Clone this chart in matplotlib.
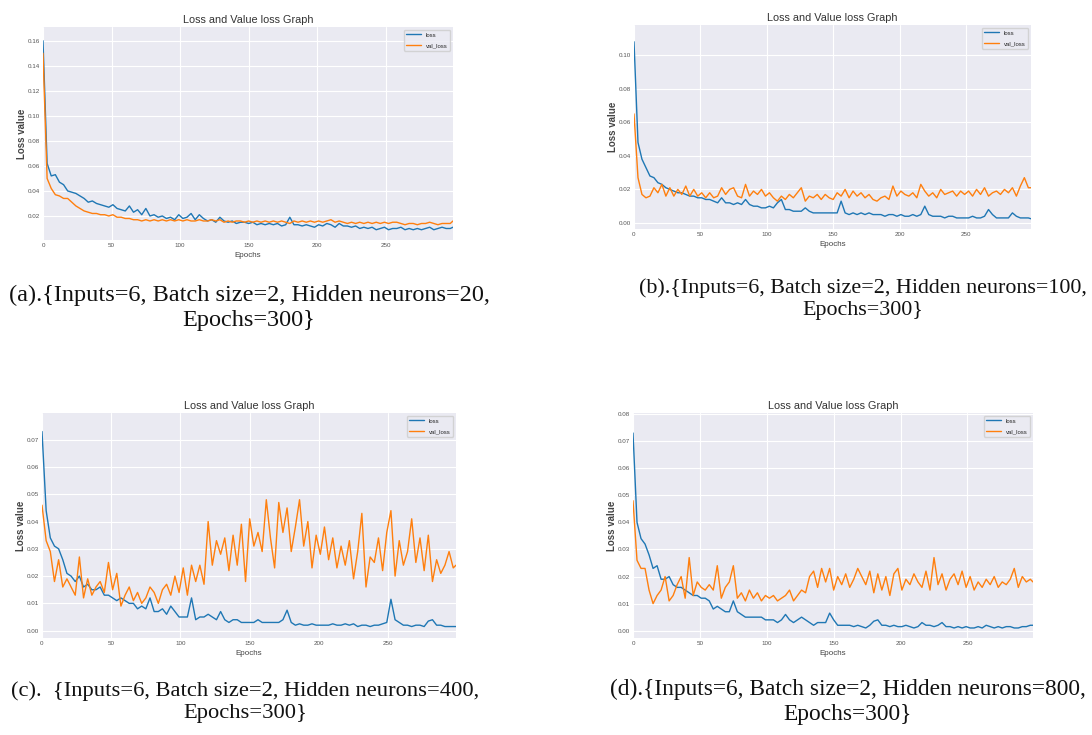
import matplotlib
matplotlib.use("Agg")
import matplotlib.pyplot as plt

# epochs sampled every 3rd epoch, plus the final one
epochs = list(range(0, 298, 3)) + [299]

loss_a = [0.160, 0.062, 0.052, 0.053, 0.047, 0.045, 0.040, 0.039, 0.038, 0.036,
          0.034, 0.031, 0.032, 0.030, 0.029, 0.028, 0.027, 0.029, 0.026, 0.025,
          0.024, 0.028, 0.023, 0.025, 0.021, 0.026, 0.020, 0.021, 0.019, 0.020,
          0.018, 0.019, 0.017, 0.021, 0.018, 0.019, 0.022, 0.017, 0.021, 0.018,
          0.016, 0.017, 0.015, 0.019, 0.016, 0.015, 0.016, 0.014, 0.015, 0.015,
          0.014, 0.015, 0.013, 0.014, 0.013, 0.014, 0.013, 0.014, 0.012, 0.013,
          0.019, 0.013, 0.013, 0.012, 0.013, 0.012, 0.011, 0.013, 0.012, 0.014,
          0.013, 0.011, 0.014, 0.012, 0.012, 0.011, 0.012, 0.010, 0.011, 0.010,
          0.011, 0.009, 0.010, 0.011, 0.009, 0.010, 0.010, 0.011, 0.009, 0.010,
          0.009, 0.010, 0.009, 0.010, 0.011, 0.009, 0.010, 0.011, 0.010, 0.010,
          0.011]
val_a = [0.150, 0.050, 0.042, 0.037, 0.036, 0.034, 0.034, 0.031, 0.028, 0.026,
         0.024, 0.023, 0.022, 0.022, 0.021, 0.021, 0.020, 0.021, 0.019, 0.019,
         0.018, 0.018, 0.017, 0.017, 0.016, 0.017, 0.016, 0.017, 0.016, 0.017,
         0.016, 0.017, 0.016, 0.017, 0.016, 0.017, 0.016, 0.016, 0.017, 0.016,
         0.016, 0.017, 0.016, 0.017, 0.015, 0.016, 0.015, 0.016, 0.016, 0.015,
         0.016, 0.015, 0.016, 0.015, 0.016, 0.015, 0.016, 0.015, 0.016, 0.015,
         0.014, 0.016, 0.015, 0.016, 0.015, 0.016, 0.015, 0.016, 0.015, 0.016,
         0.017, 0.015, 0.016, 0.015, 0.014, 0.015, 0.014, 0.015, 0.014, 0.015,
         0.014, 0.015, 0.014, 0.015, 0.014, 0.015, 0.015, 0.014, 0.013, 0.014,
         0.014, 0.013, 0.014, 0.014, 0.015, 0.014, 0.013, 0.014, 0.014, 0.014,
         0.016]

loss_b = [0.108, 0.048, 0.038, 0.033, 0.028, 0.027, 0.024, 0.023, 0.021, 0.020,
          0.019, 0.018, 0.018, 0.017, 0.016, 0.016, 0.015, 0.015, 0.014, 0.014,
          0.013, 0.012, 0.015, 0.012, 0.012, 0.011, 0.012, 0.011, 0.014, 0.011,
          0.010, 0.010, 0.009, 0.009, 0.010, 0.009, 0.012, 0.014, 0.008, 0.008,
          0.007, 0.007, 0.007, 0.009, 0.007, 0.006, 0.006, 0.006, 0.006, 0.006,
          0.006, 0.006, 0.013, 0.006, 0.005, 0.006, 0.005, 0.006, 0.005, 0.006,
          0.005, 0.005, 0.005, 0.004, 0.005, 0.005, 0.004, 0.005, 0.004, 0.004,
          0.005, 0.004, 0.005, 0.010, 0.005, 0.004, 0.004, 0.004, 0.003, 0.004,
          0.004, 0.003, 0.003, 0.003, 0.003, 0.004, 0.003, 0.003, 0.004, 0.008,
          0.005, 0.003, 0.003, 0.003, 0.003, 0.006, 0.004, 0.003, 0.003, 0.003,
          0.0025]
val_b = [0.065, 0.027, 0.017, 0.015, 0.016, 0.021, 0.018, 0.023, 0.016, 0.021,
         0.016, 0.020, 0.017, 0.022, 0.016, 0.020, 0.016, 0.018, 0.015, 0.018,
         0.015, 0.016, 0.021, 0.017, 0.020, 0.021, 0.016, 0.015, 0.023, 0.016,
         0.019, 0.017, 0.020, 0.016, 0.018, 0.015, 0.013, 0.016, 0.014, 0.017,
         0.015, 0.018, 0.021, 0.013, 0.016, 0.015, 0.017, 0.014, 0.017, 0.015,
         0.014, 0.018, 0.016, 0.020, 0.015, 0.019, 0.016, 0.018, 0.015, 0.017,
         0.014, 0.013, 0.015, 0.016, 0.014, 0.022, 0.016, 0.019, 0.017, 0.016,
         0.018, 0.015, 0.023, 0.019, 0.016, 0.018, 0.015, 0.020, 0.017, 0.018,
         0.019, 0.016, 0.019, 0.017, 0.019, 0.016, 0.020, 0.017, 0.021, 0.016,
         0.018, 0.019, 0.017, 0.020, 0.018, 0.021, 0.016, 0.022, 0.027, 0.021,
         0.021]

loss_c = [0.073, 0.044, 0.034, 0.031, 0.030, 0.026, 0.021, 0.020, 0.018, 0.020,
          0.016, 0.017, 0.015, 0.015, 0.016, 0.013, 0.013, 0.012, 0.011, 0.012,
          0.011, 0.010, 0.010, 0.008, 0.009, 0.008, 0.012, 0.007, 0.007, 0.008,
          0.006, 0.009, 0.007, 0.005, 0.005, 0.005, 0.012, 0.004, 0.005, 0.005,
          0.006, 0.005, 0.004, 0.007, 0.004, 0.003, 0.004, 0.004, 0.003, 0.003,
          0.003, 0.003, 0.004, 0.003, 0.003, 0.003, 0.003, 0.003, 0.004, 0.0075,
          0.003, 0.002, 0.0025, 0.002, 0.002, 0.0025, 0.002, 0.002, 0.002, 0.002,
          0.0025, 0.002, 0.002, 0.0025, 0.002, 0.0025, 0.0015, 0.002, 0.002, 0.0015,
          0.002, 0.002, 0.0025, 0.003, 0.0115, 0.004, 0.003, 0.002, 0.002, 0.0015,
          0.002, 0.002, 0.0015, 0.0035, 0.004, 0.002, 0.002, 0.0015, 0.0015, 0.0015,
          0.0015]
val_c = [0.046, 0.033, 0.029, 0.018, 0.026, 0.016, 0.019, 0.016, 0.013, 0.027,
         0.012, 0.019, 0.013, 0.016, 0.018, 0.014, 0.025, 0.015, 0.021, 0.009,
         0.013, 0.016, 0.011, 0.014, 0.010, 0.012, 0.016, 0.014, 0.010, 0.015,
         0.017, 0.013, 0.020, 0.014, 0.023, 0.013, 0.024, 0.018, 0.024, 0.017,
         0.040, 0.024, 0.033, 0.028, 0.034, 0.022, 0.035, 0.024, 0.039, 0.018,
         0.041, 0.031, 0.036, 0.029, 0.048, 0.034, 0.023, 0.047, 0.036, 0.045,
         0.029, 0.038, 0.048, 0.031, 0.040, 0.023, 0.035, 0.028, 0.038, 0.026,
         0.034, 0.023, 0.031, 0.024, 0.033, 0.019, 0.029, 0.043, 0.016, 0.027,
         0.025, 0.034, 0.022, 0.036, 0.044, 0.020, 0.033, 0.024, 0.029, 0.041,
         0.025, 0.034, 0.022, 0.035, 0.018, 0.026, 0.021, 0.024, 0.029, 0.023,
         0.024]

loss_d = [0.073, 0.040, 0.034, 0.032, 0.028, 0.023, 0.024, 0.019, 0.019, 0.020,
          0.017, 0.016, 0.016, 0.015, 0.014, 0.013, 0.013, 0.012, 0.012, 0.011,
          0.008, 0.009, 0.008, 0.007, 0.007, 0.011, 0.007, 0.006, 0.005, 0.005,
          0.005, 0.005, 0.005, 0.004, 0.004, 0.004, 0.003, 0.004, 0.006, 0.004,
          0.003, 0.004, 0.005, 0.004, 0.003, 0.002, 0.003, 0.003, 0.003, 0.0065,
          0.004, 0.002, 0.002, 0.002, 0.002, 0.0015, 0.002, 0.0015, 0.001, 0.002,
          0.0035, 0.004, 0.002, 0.002, 0.0015, 0.002, 0.0015, 0.0015, 0.002, 0.0015,
          0.001, 0.0015, 0.003, 0.002, 0.002, 0.0015, 0.002, 0.003, 0.0015, 0.0015,
          0.001, 0.0015, 0.001, 0.0015, 0.001, 0.001, 0.0015, 0.001, 0.002, 0.0015,
          0.001, 0.0015, 0.001, 0.0015, 0.0015, 0.001, 0.001, 0.0015, 0.0015, 0.002,
          0.002]
val_d = [0.048, 0.026, 0.023, 0.023, 0.015, 0.010, 0.013, 0.015, 0.020, 0.011,
         0.013, 0.017, 0.020, 0.012, 0.027, 0.013, 0.018, 0.016, 0.015, 0.017,
         0.015, 0.024, 0.012, 0.016, 0.018, 0.024, 0.012, 0.014, 0.011, 0.015,
         0.012, 0.014, 0.011, 0.013, 0.012, 0.013, 0.011, 0.012, 0.013, 0.015,
         0.011, 0.013, 0.015, 0.014, 0.020, 0.022, 0.016, 0.023, 0.018, 0.023,
         0.015, 0.020, 0.017, 0.021, 0.016, 0.019, 0.023, 0.020, 0.017, 0.022,
         0.014, 0.021, 0.015, 0.020, 0.013, 0.021, 0.023, 0.015, 0.019, 0.017,
         0.021, 0.018, 0.016, 0.022, 0.015, 0.027, 0.017, 0.021, 0.015, 0.019,
         0.021, 0.017, 0.022, 0.016, 0.020, 0.015, 0.018, 0.016, 0.019, 0.017,
         0.020, 0.016, 0.018, 0.017, 0.019, 0.023, 0.016, 0.020, 0.018, 0.019,
         0.018]

captions = [
    "(a).{Inputs=6, Batch size=2, Hidden neurons=20,\nEpochs=300}",
    "(b).{Inputs=6, Batch size=2, Hidden neurons=100,\nEpochs=300}",
    "(c).  {Inputs=6, Batch size=2, Hidden neurons=400,\nEpochs=300}",
    "(d).{Inputs=6, Batch size=2, Hidden neurons=800,\nEpochs=300}",
]

plt.style.use("seaborn-v0_8-darkgrid")
sans = ["Liberation Sans", "DejaVu Sans"]
serif = ["Liberation Serif", "DejaVu Serif"]

W, H = 1092, 735
fig = plt.figure(figsize=(W / 100, H / 100), dpi=100)
fig.patch.set_facecolor("white")

# pixel boxes: left, top, right, bottom
boxes = [(43, 27, 453, 240), (634, 25, 1031, 229),
         (42, 413, 456, 638), (633, 413, 1033, 638)]
ylims = [(0.0008, 0.171), (-0.0036, 0.118), (-0.0027, 0.0798), (-0.0027, 0.0804)]
series = [(loss_a, val_a), (loss_b, val_b), (loss_c, val_c), (loss_d, val_d)]
cap_pos = [(249, 308), (863, 299), (245, 702), (848, 702)]
cap_size = [17.5, 15.8, 16.2, 16.8]

for i in range(4):
    l, t, r, b = boxes[i]
    ax = fig.add_axes([l / W, 1 - b / H, (r - l) / W, (b - t) / H])
    loss, val = series[i]
    ax.plot(epochs, loss, color="#1f77b4", lw=1.0, label="loss")
    ax.plot(epochs, val, color="#ff7f0e", lw=1.0, label="val_loss")
    ax.set_xlim(0, 299)
    ax.set_ylim(*ylims[i])
    ax.set_xticks([0, 50, 100, 150, 200, 250])
    ax.tick_params(labelsize=4.5, pad=2)
    for lab in ax.get_xticklabels() + ax.get_yticklabels():
        lab.set_family(sans)
        lab.set_color("#555555")
    ax.grid(color="white", lw=0.8)
    ax.set_title("Loss and Value loss Graph", family=sans, fontsize=7.8,
                 color="#333333", pad=3)
    ax.set_xlabel("Epochs", family=sans, fontsize=5.8, color="#444444", labelpad=3)
    ax.set_ylabel("Loss value", family=sans, fontsize=7, fontweight="bold",
                  color="#444444", labelpad=1)
    ax.legend(loc="upper right", handlelength=2.5, labelspacing=0.9, frameon=True,
              prop={"family": sans, "size": 4.3})
    cx, cy = cap_pos[i]
    fig.text(cx / W, 1 - cy / H, captions[i], ha="center", va="center",
             family=serif, fontsize=cap_size[i], linespacing=1.25, color="#111111")

fig.savefig("out.png", dpi=100, facecolor="white")
